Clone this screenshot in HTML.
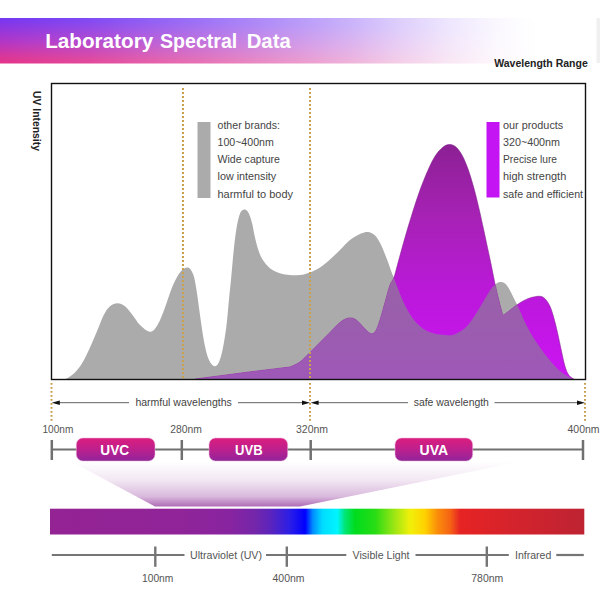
<!DOCTYPE html>
<html><head><meta charset="utf-8"><title>Laboratory Spectral Data</title>
<style>
html,body{margin:0;padding:0;background:#fff;width:600px;height:600px;overflow:hidden}
svg{display:block}
text{font-family:"Liberation Sans",sans-serif}
</style></head>
<body>
<svg width="600" height="600" viewBox="0 0 600 600">
<defs>
  <linearGradient id="banV" gradientUnits="userSpaceOnUse" x1="0" y1="18" x2="-1" y2="63.5">
    <stop offset="0" stop-color="#7436f2"/>
    <stop offset="0.5" stop-color="#b036c8"/>
    <stop offset="0.85" stop-color="#da3698"/>
    <stop offset="1" stop-color="#e4348a"/>
  </linearGradient>
  <linearGradient id="banH" x1="0" y1="0" x2="1" y2="0">
    <stop offset="0" stop-color="#fff" stop-opacity="0"/>
    <stop offset="0.15" stop-color="#fff" stop-opacity="0.1"/>
    <stop offset="0.335" stop-color="#fff" stop-opacity="0.3"/>
    <stop offset="0.5" stop-color="#fff" stop-opacity="0.5"/>
    <stop offset="0.586" stop-color="#fff" stop-opacity="0.62"/>
    <stop offset="0.67" stop-color="#fff" stop-opacity="0.76"/>
    <stop offset="0.754" stop-color="#fff" stop-opacity="0.88"/>
    <stop offset="0.838" stop-color="#fff" stop-opacity="0.97"/>
    <stop offset="0.9" stop-color="#fff" stop-opacity="1"/>
  </linearGradient>
  <linearGradient id="purG" gradientUnits="userSpaceOnUse" x1="0" y1="144" x2="0" y2="380">
    <stop offset="0" stop-color="#8c2094"/>
    <stop offset="0.3" stop-color="#a622b4"/>
    <stop offset="0.65" stop-color="#bc18dc"/>
    <stop offset="1" stop-color="#cc14f4"/>
  </linearGradient>
  <linearGradient id="pill" x1="0" y1="0" x2="0" y2="1">
    <stop offset="0" stop-color="#dc1e7e"/>
    <stop offset="0.5" stop-color="#bc208c"/>
    <stop offset="0.93" stop-color="#98249a"/>
    <stop offset="1" stop-color="#842088"/>
  </linearGradient>
  <linearGradient id="beam" gradientUnits="userSpaceOnUse" x1="0" y1="462" x2="0" y2="508">
    <stop offset="0" stop-color="#a050a8" stop-opacity="0"/>
    <stop offset="0.4" stop-color="#a050a8" stop-opacity="0.14"/>
    <stop offset="0.75" stop-color="#a050a8" stop-opacity="0.4"/>
    <stop offset="1" stop-color="#9c4aa6" stop-opacity="0.88"/>
  </linearGradient>
  <linearGradient id="spec" gradientUnits="userSpaceOnUse" x1="50" y1="0" x2="584" y2="0">
    <stop offset="0" stop-color="#942394"/>
    <stop offset="0.243" stop-color="#902498"/>
    <stop offset="0.337" stop-color="#8824a0"/>
    <stop offset="0.384" stop-color="#7426aa"/>
    <stop offset="0.412" stop-color="#5c24bc"/>
    <stop offset="0.449" stop-color="#2c1ee6"/>
    <stop offset="0.478" stop-color="#0000ff"/>
    <stop offset="0.492" stop-color="#008cff"/>
    <stop offset="0.51" stop-color="#00dcff"/>
    <stop offset="0.538" stop-color="#00f5ff"/>
    <stop offset="0.552" stop-color="#00e678"/>
    <stop offset="0.571" stop-color="#00dc1e"/>
    <stop offset="0.609" stop-color="#28dc14"/>
    <stop offset="0.646" stop-color="#a0e614"/>
    <stop offset="0.674" stop-color="#f0f00a"/>
    <stop offset="0.702" stop-color="#ffd200"/>
    <stop offset="0.726" stop-color="#fa8c0a"/>
    <stop offset="0.749" stop-color="#f56414"/>
    <stop offset="0.768" stop-color="#e62323"/>
    <stop offset="0.88" stop-color="#d2232d"/>
    <stop offset="1" stop-color="#be2332"/>
  </linearGradient>
  <linearGradient id="ovG" gradientUnits="userSpaceOnUse" x1="0" y1="278" x2="0" y2="380">
    <stop offset="0" stop-color="#9862a6"/>
    <stop offset="1" stop-color="#9e58b8"/>
  </linearGradient>
  <clipPath id="greyClip"><path d="M66.00,379.00 C67.50,377.92 72.25,375.25 75.00,372.50 C77.75,369.75 80.00,366.67 82.50,362.50 C85.00,358.33 87.50,352.92 90.00,347.50 C92.50,342.08 95.21,335.42 97.50,330.00 C99.79,324.58 101.67,318.96 103.75,315.00 C105.83,311.04 107.71,308.21 110.00,306.25 C112.29,304.29 115.00,303.25 117.50,303.25 C120.00,303.25 122.50,304.29 125.00,306.25 C127.50,308.21 130.00,311.88 132.50,315.00 C135.00,318.12 137.08,322.21 140.00,325.00 C142.92,327.79 147.08,331.75 150.00,331.75 C152.92,331.75 155.00,329.04 157.50,325.00 C160.00,320.96 162.50,313.96 165.00,307.50 C167.50,301.04 169.92,292.21 172.50,286.25 C175.08,280.29 177.92,274.88 180.50,271.75 C183.08,268.62 185.88,267.04 188.00,267.50 C190.12,267.96 191.83,270.75 193.25,274.50 C194.67,278.25 195.38,283.25 196.50,290.00 C197.62,296.75 198.79,306.67 200.00,315.00 C201.21,323.33 202.50,333.12 203.75,340.00 C205.00,346.88 206.25,352.29 207.50,356.25 C208.75,360.21 210.00,362.08 211.25,363.75 C212.50,365.42 213.75,366.46 215.00,366.25 C216.25,366.04 217.50,365.21 218.75,362.50 C220.00,359.79 221.25,355.83 222.50,350.00 C223.75,344.17 225.21,335.50 226.25,327.50 C227.29,319.50 227.92,310.42 228.75,302.00 C229.58,293.58 230.42,285.67 231.25,277.00 C232.08,268.33 232.92,257.83 233.75,250.00 C234.58,242.17 235.42,235.42 236.25,230.00 C237.08,224.58 237.92,220.62 238.75,217.50 C239.58,214.38 240.29,212.58 241.25,211.25 C242.21,209.92 243.46,209.50 244.50,209.50 C245.54,209.50 246.58,210.12 247.50,211.25 C248.42,212.38 249.17,213.96 250.00,216.25 C250.83,218.54 251.67,221.46 252.50,225.00 C253.33,228.54 253.96,233.12 255.00,237.50 C256.04,241.88 257.29,247.29 258.75,251.25 C260.21,255.21 261.46,258.12 263.75,261.25 C266.04,264.38 268.96,267.79 272.50,270.00 C276.04,272.21 280.42,273.67 285.00,274.50 C289.58,275.33 295.83,275.33 300.00,275.00 C304.17,274.67 306.67,273.75 310.00,272.50 C313.33,271.25 316.67,269.67 320.00,267.50 C323.33,265.33 326.67,262.42 330.00,259.50 C333.33,256.58 336.67,253.25 340.00,250.00 C343.33,246.75 346.50,242.75 350.00,240.00 C353.50,237.25 357.92,234.83 361.00,233.50 C364.08,232.17 366.17,231.67 368.50,232.00 C370.83,232.33 373.00,233.54 375.00,235.50 C377.00,237.46 378.62,240.08 380.50,243.75 C382.38,247.42 384.46,252.92 386.25,257.50 C388.04,262.08 390.00,267.92 391.25,271.25 C392.50,274.58 392.71,274.79 393.75,277.50 C394.79,280.21 396.04,283.75 397.50,287.50 C398.96,291.25 400.83,296.25 402.50,300.00 C404.17,303.75 405.42,306.46 407.50,310.00 C409.58,313.54 412.08,317.92 415.00,321.25 C417.92,324.58 421.67,327.92 425.00,330.00 C428.33,332.08 431.67,332.92 435.00,333.75 C438.33,334.58 442.08,334.79 445.00,335.00 C447.92,335.21 449.58,335.83 452.50,335.00 C455.42,334.17 459.58,332.08 462.50,330.00 C465.42,327.92 467.50,325.62 470.00,322.50 C472.50,319.38 475.00,315.21 477.50,311.25 C480.00,307.29 482.71,302.50 485.00,298.75 C487.29,295.00 489.38,291.25 491.25,288.75 C493.12,286.25 494.79,284.88 496.25,283.75 C497.71,282.62 498.54,282.04 500.00,282.00 C501.46,281.96 503.42,282.25 505.00,283.50 C506.58,284.75 507.88,286.75 509.50,289.50 C511.12,292.25 513.25,297.00 514.75,300.00 C516.25,303.00 516.79,303.75 518.50,307.50 C520.21,311.25 522.67,317.71 525.00,322.50 C527.33,327.29 530.00,332.08 532.50,336.25 C535.00,340.42 537.50,343.96 540.00,347.50 C542.50,351.04 545.00,354.38 547.50,357.50 C550.00,360.62 552.50,363.67 555.00,366.25 C557.50,368.83 560.00,371.12 562.50,373.00 C565.00,374.88 567.71,376.46 570.00,377.50 C572.29,378.54 575.21,378.96 576.25,379.25 L576,379.5 L66,379.5 Z"/></clipPath>
</defs>

<!-- banner -->
<rect x="0" y="18" width="597" height="45.5" fill="url(#banV)"/>
<rect x="0" y="17.5" width="597" height="46.5" fill="url(#banH)"/>
<rect x="596.5" y="18" width="3.5" height="45" fill="#f0f0f0"/>
<g font-size="20" font-weight="bold" fill="#fff">
  <text x="45.2" y="47.8" textLength="108" lengthAdjust="spacingAndGlyphs">Laboratory</text>
  <text x="160" y="47.8" textLength="77.3" lengthAdjust="spacingAndGlyphs">Spectral</text>
  <text x="246.7" y="47.8" textLength="44" lengthAdjust="spacingAndGlyphs">Data</text>
</g>
<text x="494.2" y="67.3" font-size="11" font-weight="bold" fill="#222" textLength="93.6" lengthAdjust="spacingAndGlyphs">Wavelength Range</text>

<!-- y label -->
<text transform="translate(33,91) rotate(90)" font-size="11" font-weight="bold" fill="#222" textLength="60" lengthAdjust="spacingAndGlyphs">UV Intensity</text>

<!-- curves -->
<path d="M66.00,379.00 C67.50,377.92 72.25,375.25 75.00,372.50 C77.75,369.75 80.00,366.67 82.50,362.50 C85.00,358.33 87.50,352.92 90.00,347.50 C92.50,342.08 95.21,335.42 97.50,330.00 C99.79,324.58 101.67,318.96 103.75,315.00 C105.83,311.04 107.71,308.21 110.00,306.25 C112.29,304.29 115.00,303.25 117.50,303.25 C120.00,303.25 122.50,304.29 125.00,306.25 C127.50,308.21 130.00,311.88 132.50,315.00 C135.00,318.12 137.08,322.21 140.00,325.00 C142.92,327.79 147.08,331.75 150.00,331.75 C152.92,331.75 155.00,329.04 157.50,325.00 C160.00,320.96 162.50,313.96 165.00,307.50 C167.50,301.04 169.92,292.21 172.50,286.25 C175.08,280.29 177.92,274.88 180.50,271.75 C183.08,268.62 185.88,267.04 188.00,267.50 C190.12,267.96 191.83,270.75 193.25,274.50 C194.67,278.25 195.38,283.25 196.50,290.00 C197.62,296.75 198.79,306.67 200.00,315.00 C201.21,323.33 202.50,333.12 203.75,340.00 C205.00,346.88 206.25,352.29 207.50,356.25 C208.75,360.21 210.00,362.08 211.25,363.75 C212.50,365.42 213.75,366.46 215.00,366.25 C216.25,366.04 217.50,365.21 218.75,362.50 C220.00,359.79 221.25,355.83 222.50,350.00 C223.75,344.17 225.21,335.50 226.25,327.50 C227.29,319.50 227.92,310.42 228.75,302.00 C229.58,293.58 230.42,285.67 231.25,277.00 C232.08,268.33 232.92,257.83 233.75,250.00 C234.58,242.17 235.42,235.42 236.25,230.00 C237.08,224.58 237.92,220.62 238.75,217.50 C239.58,214.38 240.29,212.58 241.25,211.25 C242.21,209.92 243.46,209.50 244.50,209.50 C245.54,209.50 246.58,210.12 247.50,211.25 C248.42,212.38 249.17,213.96 250.00,216.25 C250.83,218.54 251.67,221.46 252.50,225.00 C253.33,228.54 253.96,233.12 255.00,237.50 C256.04,241.88 257.29,247.29 258.75,251.25 C260.21,255.21 261.46,258.12 263.75,261.25 C266.04,264.38 268.96,267.79 272.50,270.00 C276.04,272.21 280.42,273.67 285.00,274.50 C289.58,275.33 295.83,275.33 300.00,275.00 C304.17,274.67 306.67,273.75 310.00,272.50 C313.33,271.25 316.67,269.67 320.00,267.50 C323.33,265.33 326.67,262.42 330.00,259.50 C333.33,256.58 336.67,253.25 340.00,250.00 C343.33,246.75 346.50,242.75 350.00,240.00 C353.50,237.25 357.92,234.83 361.00,233.50 C364.08,232.17 366.17,231.67 368.50,232.00 C370.83,232.33 373.00,233.54 375.00,235.50 C377.00,237.46 378.62,240.08 380.50,243.75 C382.38,247.42 384.46,252.92 386.25,257.50 C388.04,262.08 390.00,267.92 391.25,271.25 C392.50,274.58 392.71,274.79 393.75,277.50 C394.79,280.21 396.04,283.75 397.50,287.50 C398.96,291.25 400.83,296.25 402.50,300.00 C404.17,303.75 405.42,306.46 407.50,310.00 C409.58,313.54 412.08,317.92 415.00,321.25 C417.92,324.58 421.67,327.92 425.00,330.00 C428.33,332.08 431.67,332.92 435.00,333.75 C438.33,334.58 442.08,334.79 445.00,335.00 C447.92,335.21 449.58,335.83 452.50,335.00 C455.42,334.17 459.58,332.08 462.50,330.00 C465.42,327.92 467.50,325.62 470.00,322.50 C472.50,319.38 475.00,315.21 477.50,311.25 C480.00,307.29 482.71,302.50 485.00,298.75 C487.29,295.00 489.38,291.25 491.25,288.75 C493.12,286.25 494.79,284.88 496.25,283.75 C497.71,282.62 498.54,282.04 500.00,282.00 C501.46,281.96 503.42,282.25 505.00,283.50 C506.58,284.75 507.88,286.75 509.50,289.50 C511.12,292.25 513.25,297.00 514.75,300.00 C516.25,303.00 516.79,303.75 518.50,307.50 C520.21,311.25 522.67,317.71 525.00,322.50 C527.33,327.29 530.00,332.08 532.50,336.25 C535.00,340.42 537.50,343.96 540.00,347.50 C542.50,351.04 545.00,354.38 547.50,357.50 C550.00,360.62 552.50,363.67 555.00,366.25 C557.50,368.83 560.00,371.12 562.50,373.00 C565.00,374.88 567.71,376.46 570.00,377.50 C572.29,378.54 575.21,378.96 576.25,379.25 L576,379.5 L66,379.5 Z" fill="#ababab"/>
<path d="M195.00,379.00 C200.83,378.25 220.00,375.79 230.00,374.50 C240.00,373.21 245.00,372.50 255.00,371.25 C265.00,370.00 284.17,367.71 290.00,367.00 C291.67,366.17 296.67,364.42 300.00,362.00 C303.33,359.58 306.67,355.75 310.00,352.50 C313.33,349.25 316.67,345.83 320.00,342.50 C323.33,339.17 326.67,335.83 330.00,332.50 C333.33,329.17 337.29,324.79 340.00,322.50 C342.71,320.21 344.38,319.50 346.25,318.75 C348.12,318.00 349.58,317.79 351.25,318.00 C352.92,318.21 354.38,318.62 356.25,320.00 C358.12,321.38 360.42,324.17 362.50,326.25 C364.58,328.33 367.08,331.25 368.75,332.50 C370.42,333.75 371.25,334.17 372.50,333.75 C373.75,333.33 375.00,332.29 376.25,330.00 C377.50,327.71 378.54,324.58 380.00,320.00 C381.46,315.42 383.33,308.33 385.00,302.50 C386.67,296.67 388.54,289.08 390.00,285.00 C391.46,280.92 392.29,282.17 393.75,278.00 C395.21,273.83 396.88,266.75 398.75,260.00 C400.62,253.25 402.71,245.42 405.00,237.50 C407.29,229.58 410.00,220.42 412.50,212.50 C415.00,204.58 417.50,196.88 420.00,190.00 C422.50,183.12 425.00,176.88 427.50,171.25 C430.00,165.62 432.50,160.21 435.00,156.25 C437.50,152.29 440.21,149.46 442.50,147.50 C444.79,145.54 446.67,144.71 448.75,144.50 C450.83,144.29 452.92,144.71 455.00,146.25 C457.08,147.79 459.17,150.21 461.25,153.75 C463.33,157.29 465.42,161.88 467.50,167.50 C469.58,173.12 471.88,180.83 473.75,187.50 C475.62,194.17 477.08,200.42 478.75,207.50 C480.42,214.58 482.29,223.33 483.75,230.00 C485.21,236.67 486.25,241.67 487.50,247.50 C488.75,253.33 490.00,258.96 491.25,265.00 C492.50,271.04 493.75,277.92 495.00,283.75 C496.25,289.58 497.50,295.00 498.75,300.00 C500.00,305.00 501.67,311.25 502.50,313.75 C503.33,316.25 503.54,314.79 503.75,315.00 C504.58,314.38 506.88,312.71 508.75,311.25 C510.62,309.79 512.71,307.92 515.00,306.25 C517.29,304.58 519.79,302.71 522.50,301.25 C525.21,299.79 528.33,298.33 531.25,297.50 C534.17,296.67 537.71,296.04 540.00,296.25 C542.29,296.46 543.33,297.08 545.00,298.75 C546.67,300.42 548.54,303.12 550.00,306.25 C551.46,309.38 552.50,313.12 553.75,317.50 C555.00,321.88 556.25,327.08 557.50,332.50 C558.75,337.92 560.00,344.38 561.25,350.00 C562.50,355.62 563.75,362.08 565.00,366.25 C566.25,370.42 567.29,372.88 568.75,375.00 C570.21,377.12 572.92,378.33 573.75,379.00 L574,379.5 L195,379.5 Z" fill="url(#purG)" stroke="#7a1a84" stroke-width="0.5"/>
<path d="M195.00,379.00 C200.83,378.25 220.00,375.79 230.00,374.50 C240.00,373.21 245.00,372.50 255.00,371.25 C265.00,370.00 284.17,367.71 290.00,367.00 C291.67,366.17 296.67,364.42 300.00,362.00 C303.33,359.58 306.67,355.75 310.00,352.50 C313.33,349.25 316.67,345.83 320.00,342.50 C323.33,339.17 326.67,335.83 330.00,332.50 C333.33,329.17 337.29,324.79 340.00,322.50 C342.71,320.21 344.38,319.50 346.25,318.75 C348.12,318.00 349.58,317.79 351.25,318.00 C352.92,318.21 354.38,318.62 356.25,320.00 C358.12,321.38 360.42,324.17 362.50,326.25 C364.58,328.33 367.08,331.25 368.75,332.50 C370.42,333.75 371.25,334.17 372.50,333.75 C373.75,333.33 375.00,332.29 376.25,330.00 C377.50,327.71 378.54,324.58 380.00,320.00 C381.46,315.42 383.33,308.33 385.00,302.50 C386.67,296.67 388.54,289.08 390.00,285.00 C391.46,280.92 392.29,282.17 393.75,278.00 C395.21,273.83 396.88,266.75 398.75,260.00 C400.62,253.25 402.71,245.42 405.00,237.50 C407.29,229.58 410.00,220.42 412.50,212.50 C415.00,204.58 417.50,196.88 420.00,190.00 C422.50,183.12 425.00,176.88 427.50,171.25 C430.00,165.62 432.50,160.21 435.00,156.25 C437.50,152.29 440.21,149.46 442.50,147.50 C444.79,145.54 446.67,144.71 448.75,144.50 C450.83,144.29 452.92,144.71 455.00,146.25 C457.08,147.79 459.17,150.21 461.25,153.75 C463.33,157.29 465.42,161.88 467.50,167.50 C469.58,173.12 471.88,180.83 473.75,187.50 C475.62,194.17 477.08,200.42 478.75,207.50 C480.42,214.58 482.29,223.33 483.75,230.00 C485.21,236.67 486.25,241.67 487.50,247.50 C488.75,253.33 490.00,258.96 491.25,265.00 C492.50,271.04 493.75,277.92 495.00,283.75 C496.25,289.58 497.50,295.00 498.75,300.00 C500.00,305.00 501.67,311.25 502.50,313.75 C503.33,316.25 503.54,314.79 503.75,315.00 C504.58,314.38 506.88,312.71 508.75,311.25 C510.62,309.79 512.71,307.92 515.00,306.25 C517.29,304.58 519.79,302.71 522.50,301.25 C525.21,299.79 528.33,298.33 531.25,297.50 C534.17,296.67 537.71,296.04 540.00,296.25 C542.29,296.46 543.33,297.08 545.00,298.75 C546.67,300.42 548.54,303.12 550.00,306.25 C551.46,309.38 552.50,313.12 553.75,317.50 C555.00,321.88 556.25,327.08 557.50,332.50 C558.75,337.92 560.00,344.38 561.25,350.00 C562.50,355.62 563.75,362.08 565.00,366.25 C566.25,370.42 567.29,372.88 568.75,375.00 C570.21,377.12 572.92,378.33 573.75,379.00 L574,379.5 L195,379.5 Z" fill="url(#ovG)" clip-path="url(#greyClip)"/>

<!-- dotted lines -->
<g stroke="#c9a04c" stroke-width="2" stroke-dasharray="2 2" fill="none">
  <line x1="183" y1="88" x2="183" y2="379"/>
  <line x1="310" y1="88" x2="310" y2="379"/>
</g>
<g stroke="#c49a45" stroke-width="1.9" stroke-dasharray="1.8 2.2" fill="none">
  <line x1="51.5" y1="383" x2="51.5" y2="422"/>
  <line x1="310" y1="383" x2="310" y2="422"/>
  <line x1="585" y1="383" x2="585" y2="422"/>
</g>

<!-- chart box -->
<rect x="51.5" y="83.5" width="534" height="296" fill="none" stroke="#111" stroke-width="1.4"/>

<!-- legends -->
<rect x="197.5" y="122" width="13" height="76" fill="#ababab"/>
<g font-size="11" fill="#444">
  <text x="217.5" y="129" textLength="62.5" lengthAdjust="spacingAndGlyphs">other brands:</text>
  <text x="217.5" y="146" textLength="56.25" lengthAdjust="spacingAndGlyphs">100~400nm</text>
  <text x="217.5" y="163" textLength="62.5" lengthAdjust="spacingAndGlyphs">Wide capture</text>
  <text x="217.5" y="180" textLength="58.75" lengthAdjust="spacingAndGlyphs">low intensity</text>
  <text x="217.5" y="197.5" textLength="75.5" lengthAdjust="spacingAndGlyphs">harmful to body</text>
</g>
<rect x="486.5" y="122" width="13" height="75.5" fill="#c414f4"/>
<g font-size="11" fill="#444">
  <text x="503" y="129" textLength="60.25" lengthAdjust="spacingAndGlyphs">our products</text>
  <text x="503" y="146" textLength="57" lengthAdjust="spacingAndGlyphs">320~400nm</text>
  <text x="503" y="163" textLength="54" lengthAdjust="spacingAndGlyphs">Precise lure</text>
  <text x="503" y="180" textLength="63.25" lengthAdjust="spacingAndGlyphs">high strength</text>
  <text x="503" y="197.5" textLength="80" lengthAdjust="spacingAndGlyphs">safe and efficient</text>
</g>

<!-- arrows row -->
<g stroke="#444" stroke-width="0.85" fill="none">
  <line x1="57" y1="402.7" x2="129" y2="402.7"/>
  <line x1="238" y1="402.7" x2="304" y2="402.7"/>
  <line x1="316" y1="402.7" x2="408" y2="402.7"/>
  <line x1="494.5" y1="402.7" x2="579" y2="402.7"/>
</g>
<g fill="#111">
  <path d="M51.8,402.7 L59.8,400.4 L59.8,405 Z"/>
  <path d="M310,402.7 L302,400.4 L302,405 Z"/>
  <path d="M310.6,402.7 L318.6,400.4 L318.6,405 Z"/>
  <path d="M585,402.7 L577,400.4 L577,405 Z"/>
</g>
<g font-size="11" fill="#444">
  <text x="135.4" y="406" textLength="96.4" lengthAdjust="spacingAndGlyphs">harmful wavelengths</text>
  <text x="413.7" y="406" textLength="75.2" lengthAdjust="spacingAndGlyphs">safe wavelength</text>
</g>

<!-- nm labels -->
<g font-size="10.2" fill="#555">
  <text x="42.5" y="433" textLength="30.8" lengthAdjust="spacingAndGlyphs">100nm</text>
  <text x="170.2" y="433" textLength="31.6" lengthAdjust="spacingAndGlyphs">280nm</text>
  <text x="296" y="433" textLength="32" lengthAdjust="spacingAndGlyphs">320nm</text>
  <text x="567.5" y="433" textLength="32" lengthAdjust="spacingAndGlyphs">400nm</text>
</g>

<!-- beam -->
<path d="M72,462 L518,462 L300,506.5 L155,506.5 Z" fill="url(#beam)"/>

<!-- uv axis -->
<g stroke="#707070" fill="none">
  <line x1="51.5" y1="449.6" x2="583" y2="449.6" stroke-width="2"/>
  <line x1="51.8" y1="440" x2="51.8" y2="460" stroke-width="2.5"/>
  <line x1="181.8" y1="440" x2="181.8" y2="460" stroke-width="2.5"/>
  <line x1="310.7" y1="440" x2="310.7" y2="460" stroke-width="2.5"/>
  <line x1="583" y1="440" x2="583" y2="460" stroke-width="2.5"/>
</g>
<g stroke="#e9b6dc" stroke-width="0.8" stroke-opacity="0.7">
  <rect x="76.3" y="438" width="78.7" height="23" rx="6.5" fill="url(#pill)"/>
  <rect x="209" y="438" width="78.7" height="23" rx="6.5" fill="url(#pill)"/>
  <rect x="395" y="438" width="77.7" height="23" rx="6.5" fill="url(#pill)"/>
</g>
<g font-size="15" font-weight="bold" fill="#fff">
  <text x="100.3" y="455" textLength="28.9" lengthAdjust="spacingAndGlyphs">UVC</text>
  <text x="235" y="455" textLength="27.6" lengthAdjust="spacingAndGlyphs">UVB</text>
  <text x="419.5" y="455" textLength="28.6" lengthAdjust="spacingAndGlyphs">UVA</text>
</g>

<!-- spectrum -->
<rect x="50" y="508.7" width="534.3" height="25.8" fill="url(#spec)"/>

<!-- bottom axis -->
<g stroke="#757575" fill="none" stroke-width="2.2">
  <line x1="51.8" y1="555" x2="184.5" y2="555"/>
  <line x1="266" y1="555" x2="346.3" y2="555"/>
  <line x1="415.5" y1="555" x2="508.8" y2="555"/>
  <line x1="556.3" y1="555" x2="583.8" y2="555"/>
  <line x1="155.3" y1="546.5" x2="155.3" y2="566.8" stroke-width="2.4"/>
  <line x1="286.8" y1="546.5" x2="286.8" y2="566.8" stroke-width="2.4"/>
  <line x1="486.8" y1="546.5" x2="486.8" y2="566.8" stroke-width="2.4"/>
</g>
<g font-size="11" fill="#555">
  <text x="190" y="558.8" textLength="72" lengthAdjust="spacingAndGlyphs">Ultraviolet (UV)</text>
  <text x="352.5" y="558.8" textLength="57" lengthAdjust="spacingAndGlyphs">Visible Light</text>
  <text x="515" y="558.8" textLength="36.3" lengthAdjust="spacingAndGlyphs">Infrared</text>
</g>
<g font-size="10.2" fill="#555">
  <text x="142" y="582" textLength="31.3" lengthAdjust="spacingAndGlyphs">100nm</text>
  <text x="272.5" y="582" textLength="32" lengthAdjust="spacingAndGlyphs">400nm</text>
  <text x="471.3" y="582" textLength="32" lengthAdjust="spacingAndGlyphs">780nm</text>
</g>
</svg>
</body></html>
